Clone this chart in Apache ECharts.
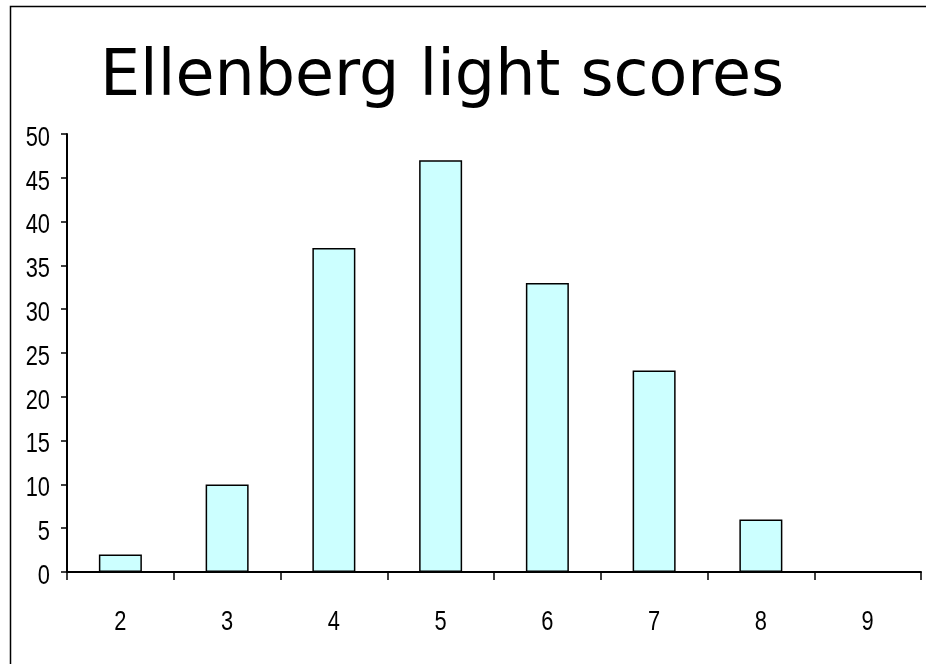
<!DOCTYPE html>
<html>
<head>
<meta charset="utf-8">
<title>Ellenberg light scores</title>
<script src="https://cdn.jsdelivr.net/npm/echarts@6/dist/echarts.min.js"></script>
<style>
  html, body { margin: 0; padding: 0; background: #ffffff; }
  #chart { width: 926px; height: 664px; }
</style>
</head>
<body>
<div id="chart"></div>
<script>
// Ellenberg light indicator values and number of species per score
const scores = ['2', '3', '4', '5', '6', '7', '8', '9'];
const counts = [2, 10, 37, 47, 33, 23, 6, 0];
const yTicks = [0, 5, 10, 15, 20, 25, 30, 35, 40, 45, 50];

// condensed tick-label look: regular sans squeezed horizontally
const labelFont = "28px 'Liberation Sans', Arial, sans-serif";
const labelSqueeze = 0.78;

const chart = echarts.init(document.getElementById('chart'), null, { renderer: 'canvas' });

chart.setOption({
  animation: false,
  backgroundColor: '#ffffff',
  title: {
    text: 'Ellenberg light scores',
    left: 100,
    top: 46,
    padding: 0,
    textStyle: {
      fontFamily: "Verdana, 'DejaVu Sans', sans-serif",
      fontSize: 63.5,
      fontWeight: 'normal',
      color: '#000000'
    }
  },
  grid: {
    left: 67,
    right: 5,
    top: 134,
    bottom: 92,
    containLabel: false
  },
  xAxis: {
    type: 'category',
    data: scores,
    boundaryGap: true,
    axisLine: { show: true, lineStyle: { color: '#000000', width: 2 } },
    axisTick: {
      show: true,
      alignWithLabel: false,
      inside: false,
      length: 8,
      lineStyle: { color: '#000000', width: 1.5 }
    },
    axisLabel: { show: false },
    splitLine: { show: false }
  },
  yAxis: {
    type: 'value',
    min: yTicks[0],
    max: yTicks[yTicks.length - 1],
    interval: 5,
    axisLine: { show: true, lineStyle: { color: '#000000', width: 2 } },
    axisTick: {
      show: true,
      inside: false,
      length: 6,
      lineStyle: { color: '#000000', width: 1.5 }
    },
    axisLabel: { show: false },
    splitLine: { show: false }
  },
  series: [
    {
      type: 'bar',
      data: counts,
      barWidth: 43,
      itemStyle: {
        color: '#ccffff',
        borderColor: '#000000',
        borderWidth: 1.5
      },
      emphasis: { disabled: true }
    }
  ]
});

// Tick labels placed from the axes' own scales, drawn narrow
const gridRect = chart.getModel().getComponent('grid', 0).coordinateSystem.getRect();
const axisY = gridRect.y + gridRect.height;
const axisX = gridRect.x;

const labelEls = [];
yTicks.forEach(function (v) {
  const py = chart.convertToPixel({ yAxisIndex: 0 }, v);
  labelEls.push({
    type: 'text',
    x: axisX - 17,
    y: py + 4,
    scaleX: labelSqueeze,
    silent: true,
    style: {
      text: String(v),
      font: labelFont,
      fill: '#000000',
      align: 'right',
      verticalAlign: 'middle'
    }
  });
});
scores.forEach(function (s) {
  const px = chart.convertToPixel({ xAxisIndex: 0 }, s);
  labelEls.push({
    type: 'text',
    x: px,
    y: axisY + 50,
    scaleX: labelSqueeze,
    silent: true,
    style: {
      text: s,
      font: labelFont,
      fill: '#000000',
      align: 'center',
      verticalAlign: 'middle'
    }
  });
});

// frame lines along the top and left edge
labelEls.push({
  type: 'polyline',
  shape: { points: [[10.5, 664], [10.5, 6.5], [926, 6.5]] },
  style: { stroke: '#000000', lineWidth: 1.5, fill: null },
  silent: true
});

chart.setOption({ graphic: labelEls });
</script>
</body>
</html>
